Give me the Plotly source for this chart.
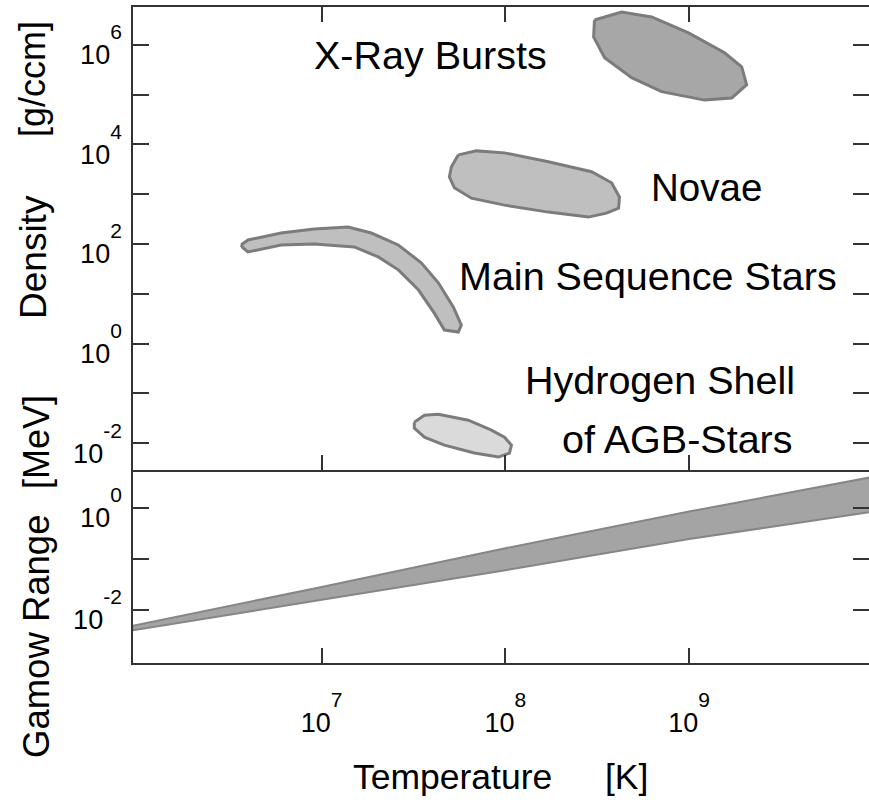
import plotly.graph_objects as go

# ---------------- data (log10 values) ----------------
T_RANGE_LOG = [5.973, 9.979]
DENS_RANGE_LOG = [-2.54, 6.76]
GAMOW_RANGE_LOG = [-3.04, 0.745]

SUP = "<span style='font-size:21px;baseline-shift:25px'>{}</span>"


def pow10(e):
    return "10" + SUP.format(e)


T_TICKS = [1e7, 1e8, 1e9]
T_TICK_LABELS = [pow10(7), pow10(8), pow10(9)]
DENS_TICKS = [1e-2, 1e-1, 1e0, 1e1, 1e2, 1e3, 1e4, 1e5, 1e6]
DENS_TICK_LABELS = [pow10(-2), "", pow10(0), "", pow10(2), "", pow10(4), "", pow10(6)]
GAMOW_TICKS = [1e-2, 1e-1, 1e0]
GAMOW_TICK_LABELS = [pow10(-2), "", pow10(0)]

xray_logT = [8.485, 8.632, 8.796, 8.997, 9.193, 9.286, 9.313, 9.232, 9.084, 8.850, 8.687, 8.540, 8.480]
xray_logrho = [6.50, 6.66, 6.56, 6.24, 5.84, 5.56, 5.20, 4.93, 4.89, 5.06, 5.34, 5.74, 6.16]

novae_logT = [7.744, 7.842, 7.995, 8.234, 8.469, 8.578, 8.621, 8.616, 8.550, 8.452, 8.234, 7.995,
              7.815, 7.722, 7.695, 7.706]
novae_logrho = [3.79, 3.87, 3.83, 3.65, 3.45, 3.23, 2.94, 2.72, 2.62, 2.54, 2.64, 2.78,
                2.92, 3.13, 3.35, 3.55]

mss_logT = [6.561, 6.599, 6.779, 6.959, 7.144, 7.270, 7.417, 7.542, 7.635, 7.717, 7.760, 7.744,
            7.668, 7.613, 7.526, 7.417, 7.308, 7.177, 6.959, 6.779, 6.599, 6.572]
mss_logrho = [1.98, 2.08, 2.22, 2.30, 2.34, 2.22, 1.98, 1.62, 1.22, 0.73, 0.37, 0.23,
              0.27, 0.61, 1.08, 1.48, 1.74, 1.94, 2.00, 1.98, 1.84, 1.92]

agb_logT = [7.504, 7.559, 7.635, 7.798, 7.924, 7.995, 8.033, 8.022, 7.962, 7.831, 7.668, 7.559, 7.504]
agb_logrho = [-1.58, -1.44, -1.42, -1.54, -1.74, -1.88, -2.04, -2.20, -2.28, -2.20, -2.04, -1.88, -1.70]

gamow_logT = [5.97, 7.0, 8.0, 9.0, 10.0]
gamow_upper_log = [-2.31, -1.55, -0.79, -0.07, 0.61]
gamow_lower_log = [-2.40, -1.80, -1.22, -0.61, -0.07]

FONT = "Liberation Sans, Arial, Helvetica, sans-serif"
AXIS_COLOR = "#333333"
OUTLINE = "#7c7c7c"


def p10(v):
    return [10 ** a for a in v]


def closed(a):
    return list(a) + [a[0]]


fig = go.Figure()

regions = [
    (xray_logT, xray_logrho, "#a7a7a7"),
    (novae_logT, novae_logrho, "#bfbfbf"),
    (mss_logT, mss_logrho, "#bfbfbf"),
    (agb_logT, agb_logrho, "#dadada"),
]
for lt, lr, col in regions:
    fig.add_trace(go.Scatter(
        x=p10(closed(lt)), y=p10(closed(lr)), mode="lines", fill="toself",
        fillcolor=col, line=dict(color=OUTLINE, width=3), xaxis="x2", yaxis="y2",
        hoverinfo="skip", showlegend=False))

band_x = p10(gamow_logT + gamow_logT[::-1])
band_y = p10(gamow_upper_log + gamow_lower_log[::-1])
fig.add_trace(go.Scatter(
    x=band_x + [band_x[0]], y=band_y + [band_y[0]], mode="lines", fill="toself",
    fillcolor="#a4a4a4", line=dict(color="#868686", width=2), xaxis="x", yaxis="y",
    hoverinfo="skip", showlegend=False))

# dummy traces for right-hand tick axes
fig.add_trace(go.Scatter(x=[None], y=[None], xaxis="x", yaxis="y3", showlegend=False))
fig.add_trace(go.Scatter(x=[None], y=[None], xaxis="x2", yaxis="y4", showlegend=False))

split = 193 / 656
tickfont = dict(family=FONT, size=27, color="#000")
common_x = dict(type="log", range=T_RANGE_LOG, showgrid=False, zeroline=False,
                showline=True, linecolor=AXIS_COLOR, linewidth=1.5,
                ticks="inside", ticklen=15, tickwidth=1.5, tickcolor=AXIS_COLOR,
                tickvals=T_TICKS, ticktext=T_TICK_LABELS, tickfont=tickfont)
common_y = dict(type="log", showgrid=False, zeroline=False, showline=True,
                linecolor=AXIS_COLOR, linewidth=1.5, ticks="inside", ticklen=16,
                tickwidth=1.5, tickcolor=AXIS_COLOR, tickfont=tickfont,
                ticklabelstandoff=4, ticklabelshift=10)
right_y = dict(type="log", showgrid=False, zeroline=False, showline=False,
               ticks="inside", ticklen=16, tickwidth=1.5, tickcolor=AXIS_COLOR,
               showticklabels=False, side="right")

fig.update_layout(
    width=869, height=802,
    margin=dict(l=133, r=0, t=7, b=139),
    paper_bgcolor="white", plot_bgcolor="white",
    xaxis=dict(common_x, anchor="y", domain=[0, 1], ticklabelstandoff=35),
    xaxis2=dict(common_x, anchor="y2", domain=[0, 1], matches="x",
                showticklabels=False, mirror="ticks"),
    yaxis=dict(common_y, domain=[0, split], range=GAMOW_RANGE_LOG,
               tickvals=GAMOW_TICKS, ticktext=GAMOW_TICK_LABELS),
    yaxis2=dict(common_y, domain=[split, 1], range=DENS_RANGE_LOG,
                tickvals=DENS_TICKS, ticktext=DENS_TICK_LABELS),
    yaxis3=dict(right_y, overlaying="y", anchor="x", range=GAMOW_RANGE_LOG,
                tickvals=GAMOW_TICKS),
    yaxis4=dict(right_y, overlaying="y2", anchor="x2", range=DENS_RANGE_LOG,
                tickvals=DENS_TICKS),
)

PW, PH, L, B = 736, 656, 133, 663


def px(x):
    return (x - L) / PW


def py(y):
    return (B - y) / PH


labels = [
    ("X-Ray Bursts", 430, 55, 39.5, 0),
    ("Novae", 706, 187, 38.5, 0),
    ("Main Sequence Stars", 648, 276, 39.5, 0),
    ("Hydrogen Shell", 660, 380, 39.5, 0),
    ("of AGB-Stars", 677, 439, 39.5, 0),
    ("Temperature", 452, 777, 35.5, 0),
    ("[K]", 626, 777, 35.5, 0),
    ("Density", 33, 257, 37, -90),
    ("[g/ccm]", 33, 79, 36, -90),
    ("Gamow Range", 36, 637, 36.5, -90),
    ("[MeV]", 36, 442, 36, -90),
]
for text, x, y, size, ang in labels:
    fig.add_annotation(text=text, x=px(x), y=py(y), xref="paper", yref="paper",
                       xanchor="center", yanchor="middle", showarrow=False,
                       textangle=ang, font=dict(family=FONT, size=size, color="#000"))

fig.write_html("out.html", config={"displayModeBar": False},
               post_script="document.body.style.margin='0';")
